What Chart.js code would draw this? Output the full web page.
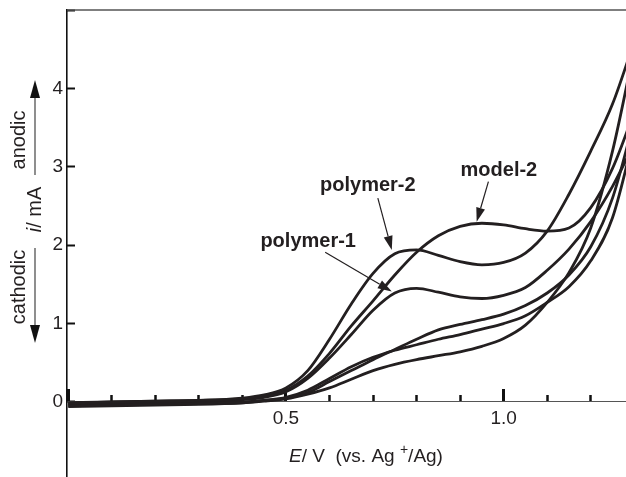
<!DOCTYPE html>
<html>
<head>
<meta charset="utf-8">
<script src="https://cdn.jsdelivr.net/npm/chart.js@4.4.1/dist/chart.umd.min.js"></script>
<style>
  html, body { margin: 0; padding: 0; background: #fff; }
  #wrap { width: 626px; height: 477px; position: relative; }
</style>
</head>
<body>
<div id="wrap"><canvas id="cvChart"></canvas></div>
<script>
// potential grid in V (vs. Ag+/Ag), shared by every scan
const potential = [0, 0.1, 0.2, 0.3, 0.4, 0.45, 0.5, 0.55, 0.6, 0.65, 0.7, 0.75, 0.8, 0.85, 0.9, 0.95, 1.0, 1.05, 1.1, 1.15, 1.2, 1.25, 1.3];

// forward (anodic) scans, current in mA
const polymer2Fwd = [-0.01, 0.0, 0.01, 0.02, 0.05, 0.09, 0.18, 0.40, 0.80, 1.25, 1.64, 1.89, 1.94, 1.87, 1.79, 1.75, 1.78, 1.90, 2.18, 2.65, 3.2, 3.8, 4.6];
const model2Fwd   = [-0.02, 0.0, 0.01, 0.02, 0.04, 0.07, 0.15, 0.33, 0.62, 0.97, 1.29, 1.62, 1.91, 2.12, 2.24, 2.28, 2.26, 2.21, 2.18, 2.22, 2.48, 2.98, 3.7];
const polymer1Fwd = [-0.02, -0.01, 0.0, 0.01, 0.03, 0.06, 0.13, 0.30, 0.56, 0.86, 1.17, 1.39, 1.45, 1.40, 1.34, 1.32, 1.36, 1.46, 1.68, 1.95, 2.3, 2.75, 3.3];

// return scans
const model2Rev   = [-0.04, -0.03, -0.02, -0.01, 0.0, 0.02, 0.05, 0.12, 0.26, 0.40, 0.54, 0.67, 0.80, 0.92, 0.99, 1.05, 1.12, 1.23, 1.39, 1.62, 1.98, 2.6, 3.6];
const polymer1Rev = [-0.05, -0.04, -0.03, -0.02, -0.01, 0.02, 0.06, 0.15, 0.30, 0.45, 0.57, 0.66, 0.73, 0.80, 0.86, 0.93, 1.00, 1.10, 1.27, 1.47, 1.8, 2.35, 3.4];
const polymer2Rev = [-0.06, -0.05, -0.04, -0.03, -0.01, 0.01, 0.04, 0.10, 0.18, 0.29, 0.40, 0.48, 0.54, 0.59, 0.64, 0.71, 0.81, 0.98, 1.27, 1.65, 2.22, 3.2, 4.5];

const yTickLabels = ['0', '1', '2', '3', '4'];
const xTickLabels = ['0.5', '1.0'];

const FONT = "'Liberation Sans', Arial, Helvetica, sans-serif";
const INK = '#231f20';

function scan(label, values) {
    return {
        label: label,
        data: potential.map((v, i) => ({ x: v, y: values[i] })),
        borderColor: INK,
        borderWidth: 2.8,
        pointRadius: 0,
        fill: false,
        cubicInterpolationMode: 'monotone'
    };
}

// chart.js adds label padding round the chart area; we place the area by hand
function noPad(scale) {
    scale.paddingLeft = 0;
    scale.paddingRight = 0;
    scale.paddingTop = 0;
    scale.paddingBottom = 0;
}

function drawArrow(ctx, x1, y1, x2, y2, len, half, width) {
    const a = Math.atan2(y2 - y1, x2 - x1);
    const bx = x2 - len * Math.cos(a), by = y2 - len * Math.sin(a);
    ctx.lineWidth = width;
    ctx.beginPath();
    ctx.moveTo(x1, y1);
    ctx.lineTo(bx, by);
    ctx.stroke();
    ctx.beginPath();
    ctx.moveTo(x2, y2);
    ctx.lineTo(bx + half * Math.sin(a), by - half * Math.cos(a));
    ctx.lineTo(bx - half * Math.sin(a), by + half * Math.cos(a));
    ctx.closePath();
    ctx.fill();
}

// draws a run of [text, font, dy] pieces centred on x=0
function drawPieces(ctx, pieces) {
    let total = 0;
    pieces.forEach(p => { ctx.font = p[1]; total += ctx.measureText(p[0]).width; });
    let cx = -total / 2;
    pieces.forEach(p => {
        ctx.font = p[1];
        ctx.fillText(p[0], cx, p[2] || 0);
        cx += ctx.measureText(p[0]).width;
    });
}

const decor = {
    id: 'decor',
    afterDraw(chart) {
        const { ctx, chartArea } = chart;
        const x = chart.scales.x, y = chart.scales.y;
        ctx.save();
        ctx.strokeStyle = INK;
        ctx.fillStyle = INK;

        // top frame line
        ctx.strokeStyle = '#555';
        ctx.lineWidth = 1.6;
        ctx.beginPath();
        ctx.moveTo(chartArea.left, chartArea.top);
        ctx.lineTo(chartArea.right, chartArea.top);
        ctx.stroke();

        // curve labels and their arrows
        ctx.strokeStyle = INK;
        ctx.font = 'bold 20px ' + FONT;
        ctx.textAlign = 'center';
        ctx.textBaseline = 'alphabetic';
        ctx.fillText('polymer-2', x.getPixelForValue(0.688), y.getPixelForValue(2.69));
        ctx.fillText('polymer-1', x.getPixelForValue(0.551), y.getPixelForValue(1.98));
        ctx.fillText('model-2', x.getPixelForValue(0.989), y.getPixelForValue(2.88));
        drawArrow(ctx, x.getPixelForValue(0.711), y.getPixelForValue(2.60), x.getPixelForValue(0.743), y.getPixelForValue(1.94), 14, 4.5, 1.2);
        drawArrow(ctx, x.getPixelForValue(0.590), y.getPixelForValue(1.91), x.getPixelForValue(0.743), y.getPixelForValue(1.41), 14, 4.5, 1.2);
        drawArrow(ctx, x.getPixelForValue(0.965), y.getPixelForValue(2.81), x.getPixelForValue(0.938), y.getPixelForValue(2.30), 14, 4.5, 1.2);

        // x axis title
        ctx.textAlign = 'left';
        ctx.save();
        ctx.translate(366, 462);
        drawPieces(ctx, [
            ['E', 'italic 19px ' + FONT],
            ['/ V  (vs. Ag ', '19px ' + FONT],
            ['+', '14px ' + FONT, -8],
            ['/Ag)', '19px ' + FONT]
        ]);
        ctx.restore();

        // y axis title with anodic / cathodic arrows
        ctx.save();
        ctx.translate(41, 209.5);
        ctx.rotate(-Math.PI / 2);
        drawPieces(ctx, [
            ['i', 'italic 20px ' + FONT],
            ['/ mA', '20px ' + FONT]
        ]);
        ctx.restore();

        ctx.save();
        ctx.translate(25, 140);
        ctx.rotate(-Math.PI / 2);
        drawPieces(ctx, [['anodic', '20px ' + FONT]]);
        ctx.restore();

        ctx.save();
        ctx.translate(25, 287);
        ctx.rotate(-Math.PI / 2);
        drawPieces(ctx, [['cathodic', '20px ' + FONT]]);
        ctx.restore();

        ctx.strokeStyle = '#444';
        ctx.fillStyle = '#111';
        drawArrow(ctx, 35, 175, 35, 80, 18, 5, 1.2);
        drawArrow(ctx, 35, 248, 35, 343, 18, 5, 1.2);

        ctx.restore();
    }
};

const ctx = document.getElementById('cvChart').getContext('2d');
const cvChart = new Chart(ctx, {
    type: 'line',
    data: {
        datasets: [
            scan('polymer-2 forward', polymer2Fwd),
            scan('model-2 forward', model2Fwd),
            scan('polymer-1 forward', polymer1Fwd),
            scan('model-2 return', model2Rev),
            scan('polymer-1 return', polymer1Rev),
            scan('polymer-2 return', polymer2Rev)
        ]
    },
    options: {
        responsive: true,
        maintainAspectRatio: false,
        animation: false,
        layout: { padding: { top: 10, left: 0, right: 0, bottom: 0 } },
        plugins: {
            legend: { display: false },
            tooltip: { enabled: false }
        },
        scales: {
            x: {
                type: 'linear',
                display: true,
                position: { y: 0 },
                min: -0.003,
                max: 1.281,
                grid: { drawOnChartArea: false, tickLength: -13, tickWidth: 3, tickColor: '#111' },
                border: { display: true, color: '#555', width: 1 },
                ticks: {
                    stepSize: 0.5,
                    includeBounds: false,
                    autoSkip: false,
                    maxRotation: 0,
                    padding: 18,
                    color: INK,
                    font: { family: FONT, size: 19 },
                    callback: v => xTickLabels.find(t => Math.abs(parseFloat(t) - v) < 1e-6) || ''
                },
                afterFit: noPad
            },
            xMinor: {
                type: 'linear',
                display: true,
                position: { y: 0 },
                min: -0.003,
                max: 1.281,
                grid: { drawOnChartArea: false, tickLength: -7, tickWidth: 2.5, tickColor: '#111' },
                border: { display: false },
                ticks: { stepSize: 0.1, includeBounds: false, display: false },
                afterFit: noPad
            },
            y: {
                type: 'linear',
                position: 'left',
                min: -0.957,
                max: 5,
                grid: { drawOnChartArea: false, tickLength: -8, tickWidth: 2, tickColor: '#111' },
                border: { display: true, color: '#111', width: 1.6 },
                ticks: {
                    stepSize: 1,
                    includeBounds: false,
                    padding: 12,
                    color: INK,
                    font: { family: FONT, size: 19 },
                    callback: v => yTickLabels.includes(String(v)) ? String(v) : ''
                },
                afterFit(scale) {
                    scale.width = 67;
                    noPad(scale);
                }
            }
        }
    },
    plugins: [decor]
});
</script>
</body>
</html>
